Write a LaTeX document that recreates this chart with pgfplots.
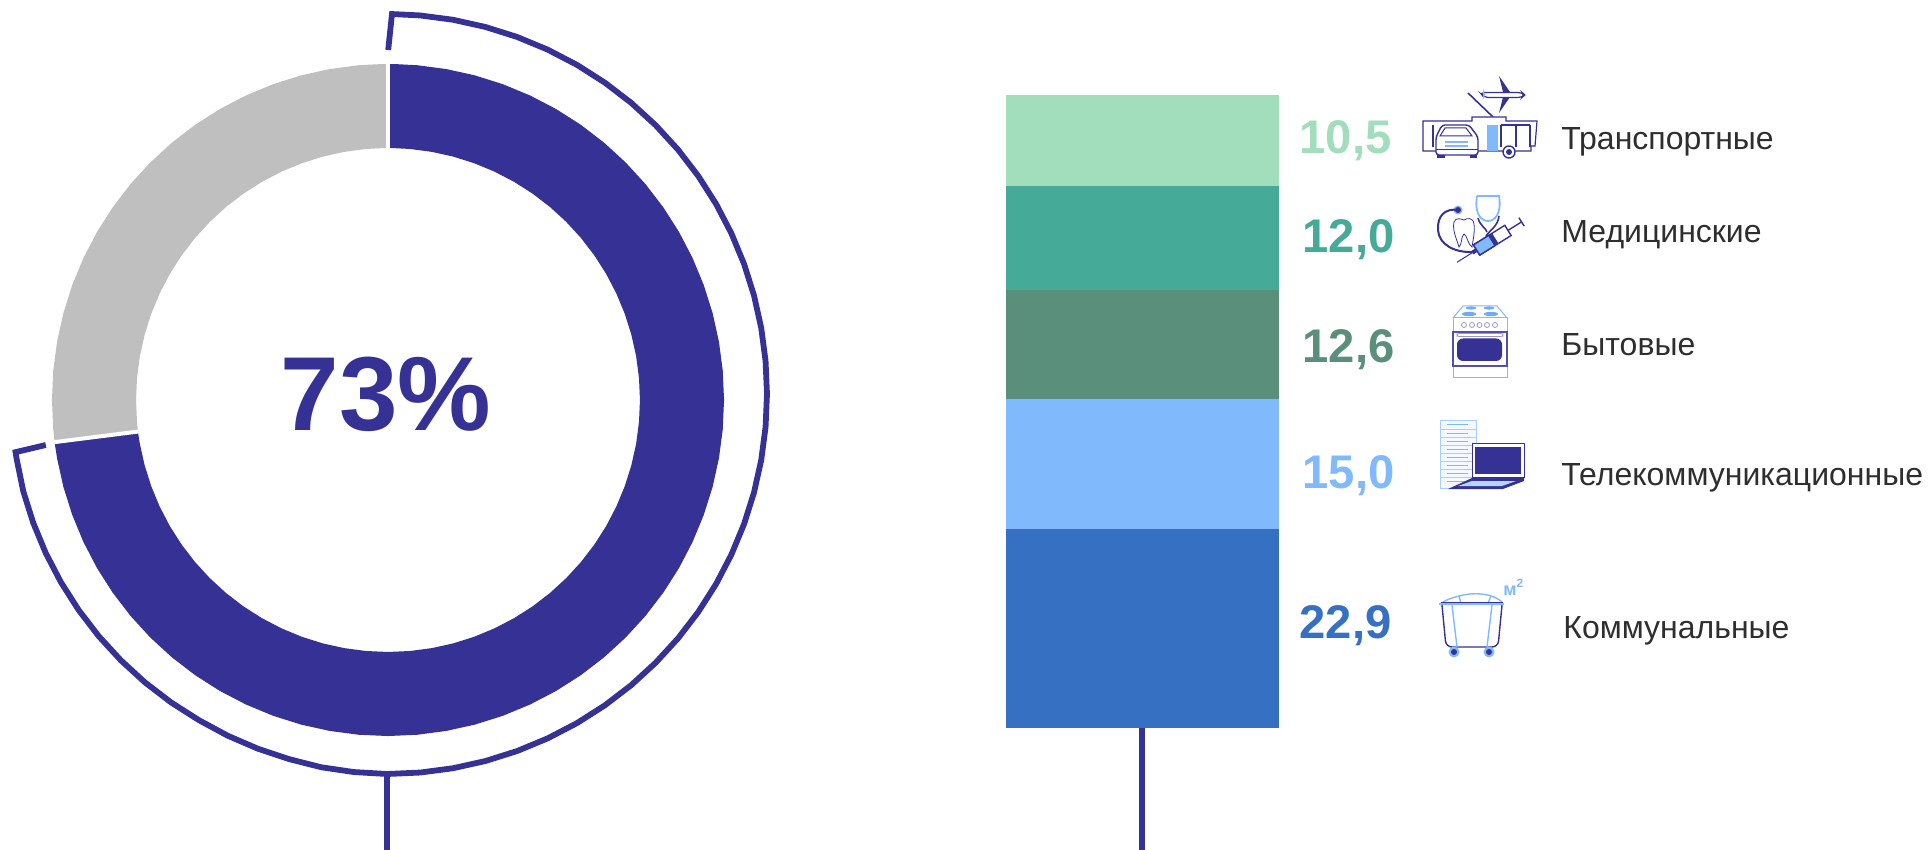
\documentclass[border=0pt]{standalone}
\usepackage{fontspec}
\setmainfont{Liberation Sans}
\usepackage{pgfplots}
\pgfplotsset{compat=1.18}
\usepgfplotslibrary{polar}
\definecolor{navy}{HTML}{363195}
\definecolor{ringgray}{HTML}{BFBFBF}
\definecolor{mint}{HTML}{A2DDBC}
\definecolor{teal2}{HTML}{46AA98}
\definecolor{sage}{HTML}{5A8F7B}
\definecolor{sky}{HTML}{80BAFD}
\definecolor{blue2}{HTML}{3670C2}
\definecolor{txt}{HTML}{2E2E2E}
\pgfplotsset{plain/.style={hide axis,scale only axis,width=400pt,height=400pt,
  xmin=-400,xmax=400,ymin=-400,ymax=400,clip=false,anchor=south west}}
% 1 px of the reference = 0.5pt
\begin{document}
\begin{tikzpicture}
\path[use as bounding box] (0,0) rectangle (964.5pt,-425pt);

% ring: 73 % navy, 27 % gray, angles counted from the top
\begin{axis}[plain,at={(-6pt,-400pt)}]
\addplot[data cs=polar,ringgray,line width=42pt,no marks] coordinates {
(187.2,294)(186.5,294)(185,294)(180,294)(175,294)(170,294)(165,294)(160,294)(155,294)(150,294)
(145,294)(140,294)(135,294)(130,294)(125,294)(120,294)(115,294)(110,294)(105,294)(100,294)(95,294)(91,294)(90,294)};
\addplot[data cs=polar,navy,line width=42pt,no marks] coordinates {
(90,294)(89,294)(85,294)(80,294)(75,294)(70,294)(65,294)(60,294)(55,294)(50,294)(45,294)(40,294)
(35,294)(30,294)(25,294)(20,294)(15,294)(10,294)(5,294)(0,294)(-5,294)(-10,294)(-15,294)(-20,294)
(-25,294)(-30,294)(-35,294)(-40,294)(-45,294)(-50,294)(-55,294)(-60,294)(-65,294)(-70,294)(-75,294)
(-80,294)(-85,294)(-90,294)(-95,294)(-100,294)(-105,294)(-110,294)(-115,294)(-120,294)(-125,294)
(-130,294)(-135,294)(-140,294)(-145,294)(-150,294)(-155,294)(-160,294)(-165,294)(-170,294)(-172,294)(-172.8,294)};
\addplot[data cs=polar,white,line width=2pt,no marks] coordinates {(90,246)(90,342)};
\addplot[data cs=polar,white,line width=2pt,no marks] coordinates {(187.2,246)(187.2,342)};
\end{axis}

% bracket round the navy part
\begin{axis}[plain,at={(-6.5pt,-397pt)}]
\addplot[data cs=polar,navy,line width=2.9pt,no marks] coordinates {
(89.8,344)(89.25,380)(85,380)(80,380)(75,380)(70,380)(65,380)(60,380)(55,380)(50,380)(45,380)(40,380)
(35,380)(30,380)(25,380)(20,380)(15,380)(10,380)(5,380)(0,380)(-5,380)(-10,380)(-15,380)(-20,380)
(-25,380)(-30,380)(-35,380)(-40,380)(-45,380)(-50,380)(-55,380)(-60,380)(-65,380)(-70,380)(-75,380)
(-80,380)(-85,380)(-90,380)(-95,379.5)(-100,379)(-105,378)(-110,377.5)(-115,377)(-120,376.5)(-125,376.5)
(-130,376.5)(-135,376.5)(-140,376.5)(-145,376.5)(-150,376.5)(-155,376.5)(-160,376.5)(-165,376.5)(-170,376)(-171.1,376)(-171.5,345)};
\end{axis}

% stacked bar
\begin{axis}[hide axis,scale only axis,width=136.5pt,height=316.5pt,
  at={(503pt,-364pt)},anchor=south west,
  ybar stacked,bar width=136.5pt,xmin=-0.5,xmax=0.5,ymin=0,ymax=73]
\addplot[fill=blue2,draw=none] coordinates {(0,22.9)};
\addplot[fill=sky,draw=none] coordinates {(0,15.0)};
\addplot[fill=sage,draw=none] coordinates {(0,12.6)};
\addplot[fill=teal2,draw=none] coordinates {(0,12.0)};
\addplot[fill=mint,draw=none] coordinates {(0,10.5)};
\end{axis}

\begin{scope}[x=0.5pt,y=-0.5pt]
\draw[navy,line width=2.8pt] (387,775)--(387,850);
\draw[navy,line width=2.8pt] (1142,728)--(1142,850);

\node[anchor=base,inner sep=0,text=navy,font=\fontsize{52.6pt}{53pt}\selectfont\bfseries] at (386,430) {73\%};

\tikzset{val/.style={anchor=base east,inner sep=0,font=\fontsize{23.6pt}{24pt}\selectfont\bfseries},
         lab/.style={anchor=base west,inner sep=0,text=txt,font=\fontsize{16pt}{16pt}\selectfont}}
\node[val,text=mint] at (1392,154) {10,5};
\node[val,text=teal2] at (1395,253) {12,0};
\node[val,text=sage] at (1395,363) {12,6};
\node[val,text=sky] at (1395,488) {15,0};
\node[val,text=blue2] at (1392,638) {22,9};
\node[lab] at (1561,150) {Транспортные};
\node[lab] at (1561,243) {Медицинские};
\node[lab] at (1561,356) {Бытовые};
\node[lab] at (1561,486) {Телекоммуникационные};
\node[lab] at (1563,638) {Коммунальные};

% transport icon
\draw[navy,line width=0.8pt] (1468,93)--(1493,117);
\fill[navy] (1499,76)--(1510,92)--(1503,92)--cycle;
\fill[navy] (1499,113)--(1510,97)--(1503,97)--cycle;
\draw[navy,line width=0.6pt,fill=white,rounded corners=2pt] (1480,92.5)--(1522,92.5)--(1525,95)--(1522,97.5)--(1484,97.5)--cycle;
\fill[sky] (1483,88)--(1485,95)--(1483,100)--cycle;
\draw[navy,line width=0.6pt,fill=white] (1423,121)--(1472,121)--(1472,117)--(1506,117)--(1506,121)--(1537,121)--(1535,146)--(1531,146)--(1531,151)--(1423,151)--cycle;
\fill[sky] (1487,125) rectangle (1498,151);
\draw[navy,line width=0.6pt] (1433,125)--(1433,147) (1501,125)--(1501,147) (1516,125)--(1516,147) (1530,125)--(1530,147) (1501,125)--(1530,125);
\draw[navy,line width=0.7pt,fill=white] (1509,152) circle (6);
\fill[navy] (1509,152) circle (3);
\fill[navy] (1437,153) rectangle (1445,158);
\fill[navy] (1470,153) rectangle (1477,158);
\draw[navy,line width=0.7pt,fill=white,rounded corners=1.5pt] (1436,155)--(1436,137)--(1442,125)--(1469,125)--(1478,137)--(1478,155)--cycle;
\draw[navy,line width=0.5pt,fill=white] (1440,136)--(1445,128)--(1466,128)--(1472,136)--cycle;
\draw[sky,line width=1.2pt] (1445,142)--(1468,142) (1445,146)--(1468,146);
\draw[navy,line width=0.5pt] (1436,150)--(1478,150);

% medical icon
\fill[sky] (1458,210) circle (4.5);
\fill[navy] (1458,210) circle (3);
\draw[navy,line width=1pt] (1458,210) .. controls (1445,208) and (1437,216) .. (1438,230) .. controls (1439,245) and (1455,253) .. (1474,252);
\draw[navy,line width=0.4pt] (1454,222) .. controls (1456,217) and (1461,219) .. (1464,220) .. controls (1467,218) and (1473,217) .. (1474,224) .. controls (1475,232) and (1473,240) .. (1472,247) .. controls (1468,245) and (1467,235) .. (1464,234) .. controls (1461,236) and (1462,245) .. (1459,247) .. controls (1457,240) and (1452,230) .. (1454,222);
\draw[sky,line width=0.9pt] (1477,196) .. controls (1474,215) and (1482,221) .. (1488,221) .. controls (1494,221) and (1502,215) .. (1499,196) -- (1477,196);
\draw[navy,line width=0.8pt] (1478,218) .. controls (1480,226) and (1486,228) .. (1487,232) (1499,216) .. controls (1498,226) and (1490,230) .. (1486,236);
\begin{scope}[shift={(1491,241)},rotate=32]
\draw[navy,line width=0.5pt] (-40,0)--(-18,0);
\fill[navy] (-22,-2) rectangle (-17,2);
\draw[navy,line width=0.7pt,fill=white] (-17,-6) rectangle (20,6);
\draw[navy,line width=0.7pt,fill=sky] (-17,-6) rectangle (1,6);
\fill[navy] (1,-6) rectangle (5,6);
\draw[navy,line width=0.7pt] (20,0)--(36,0) (36,-5)--(36,5);
\end{scope}

% stove icon
\draw[sky,line width=0.5pt] (1453,318)--(1463,306)--(1497,306)--(1507,318);
\fill[sky!80!blue2] (1471,308) ellipse (5.5 and 1.6) (1489,308) ellipse (5.5 and 1.6) (1469,314) ellipse (7 and 2.2) (1491,314) ellipse (7 and 2.2);
\draw[sky,line width=0.5pt] (1453,318) rectangle (1507,378);
\foreach \k in {1464,1472,1479.5,1487,1495} \draw[navy!50,line width=0.4pt] (\k,325) circle (2.5);
\draw[navy!85,line width=0.6pt] (1453,332) rectangle (1507,366);
\draw[navy!50,line width=0.4pt,rounded corners=1pt] (1457,333.5) rectangle (1503,336.5);
\fill[navy,rounded corners=3pt] (1457,338.5) rectangle (1502,361);

% laptop icon
\draw[sky!70,line width=0.5pt,fill=sky!8] (1440,421) rectangle (1476,488);
\foreach \r in {429,437,445,453,461,469,477} \draw[sky!70,line width=0.4pt] (1440,\r)--(1476,\r);
\foreach \r in {425,433,441,449,457,465,473,481} \draw[sky,line width=0.5pt] (1447,\r)--(1468,\r);
\draw[navy,line width=0.5pt,fill=white] (1472,443) rectangle (1524,477);
\fill[navy] (1475,447) rectangle (1521,474);
\fill[navy] (1448,489)--(1503,489)--(1524,481)--(1524,478)--(1472,478)--cycle;
\fill[sky!60] (1458,486)--(1502,486)--(1516,481)--(1472,481)--cycle;

% container icon
\draw[sky,line width=0.7pt] (1443,602) .. controls (1450,598) and (1456,597) .. (1459,596) .. controls (1470,593) and (1482,593) .. (1491,596) .. controls (1495,597) and (1500,600) .. (1502,602);
\draw[sky,line width=0.7pt] (1459,596)--(1461,603) (1491,596)--(1488,603);
\draw[navy,line width=0.7pt,rounded corners=3pt] (1442,605)--(1446,647)--(1498,647)--(1502,605);
\draw[sky,line width=0.7pt] (1452,605)--(1457,647) (1492,605)--(1487,647);
\draw[sky,line width=1.2pt] (1439,604)--(1504,604);
\draw[navy,line width=0.6pt] (1441,602.5)--(1503,602.5);
\fill[sky] (1454,652) circle (5.5) (1489,652) circle (5.5);
\fill[navy] (1454,652) circle (3) (1489,652) circle (3);
\node[anchor=base west,inner sep=0,text=sky,font=\fontsize{9pt}{9pt}\selectfont\bfseries] at (1503,595) {м\textsuperscript{2}};
\end{scope}
\end{tikzpicture}
\end{document}
